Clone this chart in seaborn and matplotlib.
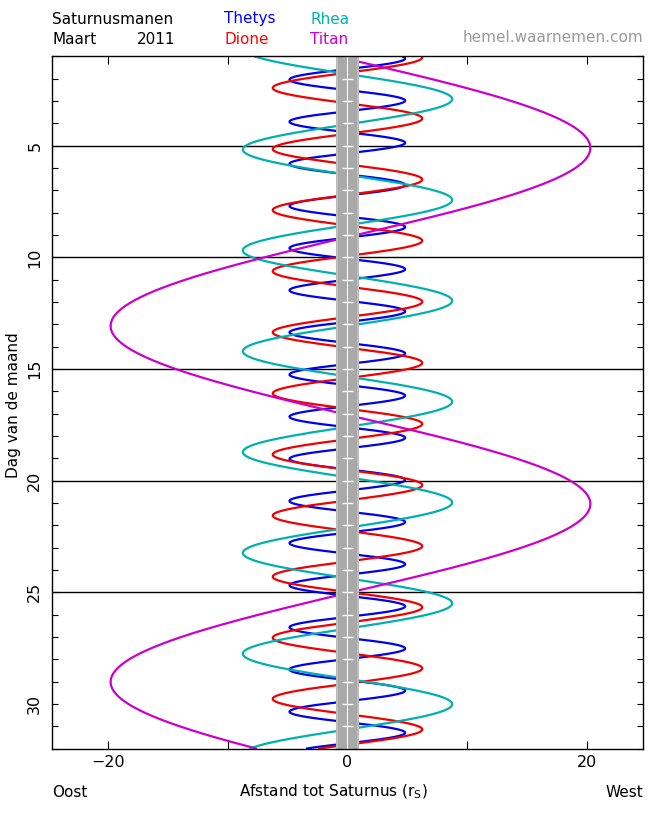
import numpy as np
import pandas as pd
import matplotlib
matplotlib.use('Agg')
import matplotlib.pyplot as plt
import seaborn as sns

# --- DATA ---
MOONS = ['Thetys', 'Dione', 'Rhea', 'Titan']
COLORS = {'Thetys': '#0000f0', 'Dione': '#f00000', 'Rhea': '#00b0b0', 'Titan': '#cc00cc'}
PERIOD_DAYS = [1.8878, 2.7369, 4.5175, 15.945]
WEST_ELONG_DAY = [1.09, 1.04, 2.91, 5.10]    # first greatest western elongation
AMP_WEST = [4.82, 6.25, 8.75, 20.3]          # in Saturn radii
AMP_EAST = [4.85, 6.25, 8.75, 19.8]
DAY_START, DAY_END = 1, 32
HLINE_DAYS = [5, 10, 15, 20, 25]
YTICKS = [5, 10, 15, 20, 25, 30]
XTICKS = [-20, 0, 20]
XMINOR = [-10, 10]

# --- build curves ---
days = np.arange(DAY_START, DAY_END + 0.001, 0.005)
records = []
for name, per, t0, aw, ae in zip(MOONS, PERIOD_DAYS, WEST_ELONG_DAY, AMP_WEST, AMP_EAST):
    c = np.cos(2 * np.pi * (days - t0) / per)
    x = np.where(c > 0, aw * c, ae * c)
    records.append(pd.DataFrame({'moon': name, 'day': days, 'x': x}))
df = pd.concat(records, ignore_index=True)

sns.set_style('ticks', {'text.color': 'black', 'axes.labelcolor': 'black',
                        'xtick.color': 'black', 'ytick.color': 'black',
                        'axes.edgecolor': 'black'})
plt.rcParams['font.family'] = ['DejaVu Sans']

fig = plt.figure(figsize=(6.5, 8.13), dpi=100)
W, H = 650, 813
ax = fig.add_axes([52 / W, 1 - 748.5 / H, (643 - 52) / W, (748.5 - 56.5) / H])

sns.lineplot(data=df, x='x', y='day', hue='moon', palette=COLORS, orient='y',
             estimator=None, sort=True, lw=1.6, legend=False, ax=ax, zorder=2)

# day lines
ax.hlines(HLINE_DAYS, -30, 30, color='black', lw=1.0, zorder=1.5)

# Saturn band
ax.axvspan(-1, 1, color='#a9a9a9', lw=0, zorder=3)
ax.axvspan(-1, -0.8, color='#bdbdbd', lw=0, zorder=3.1)
ax.axvspan(0.8, 1, color='#bdbdbd', lw=0, zorder=3.1)
ax.axvline(0, color='white', lw=0.8, zorder=3.2)
ax.hlines(np.arange(DAY_START, DAY_END + 1), -0.46, 0.46, color='white', lw=1.0, zorder=3.2)

ax.set_xlim(-24.7, 24.7)
ax.set_ylim(DAY_END, DAY_START)

ax.set_yticks(YTICKS)
ax.set_yticklabels([str(v) for v in YTICKS], rotation=90, va='center', fontsize=11.5)
ax.set_yticks(np.arange(DAY_START, DAY_END + 1), minor=True)
ax.set_xticks(XTICKS)
ax.set_xticklabels(['\u221220', '0', '20'], fontsize=11.5)
ax.set_xticks(XMINOR, minor=True)
ax.tick_params(axis='both', which='both', direction='in', top=True, right=True,
               width=0.8, color='black', labelcolor='black')
ax.tick_params(axis='y', which='both', length=4, pad=7)
ax.tick_params(axis='x', which='both', length=6, pad=5)
ax.set_xlabel('')
ax.set_ylabel('')
for s in ax.spines.values():
    s.set_linewidth(1.0)
    s.set_color('black')
    s.set_zorder(5)

# --- texts ---
def ftxt(x, y, s, **kw):
    kw.setdefault('color', 'black')
    fig.text(x / W, 1 - y / H, s, va='center', fontsize=11, **kw)

ftxt(52, 19, 'Saturnusmanen')
ftxt(52, 40, 'Maart')
ftxt(137, 40, '2011')
ftxt(224, 19, 'Thetys', color='#0000ff')
ftxt(224, 40, 'Dione', color='#ff0000')
ftxt(310, 19, 'Rhea', color='#00b4b4')
ftxt(310, 40, 'Titan', color='#cc00cc')
ftxt(643, 38, 'hemel.waarnemen.com', color='#9a9a9a', ha='right')
ftxt(52, 792, 'Oost')
ftxt(643, 792, 'West', ha='right')
ftxt(333, 792, 'Afstand tot Saturnus (r$_\\mathregular{S}$)', ha='center')
fig.text(14 / W, 1 - 405 / H, 'Dag van de maand', rotation=90, va='center',
         ha='center', fontsize=11, color='black')

plt.savefig('out.png', dpi=100)
plt.close()
